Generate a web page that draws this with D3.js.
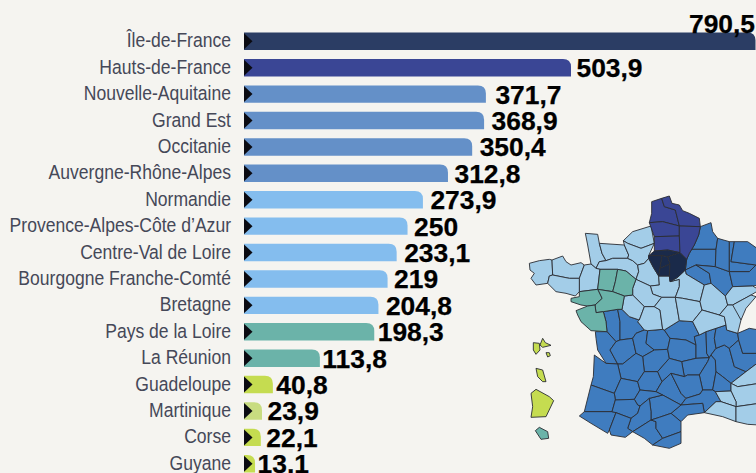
<!DOCTYPE html>
<html><head><meta charset="utf-8">
<style>html,body{margin:0;padding:0;background:#f5f4f0;overflow:hidden}svg{display:block}</style>
<script src="https://cdnjs.cloudflare.com/ajax/libs/d3/7.8.5/d3.min.js"></script>
</head><body><svg id="c" width="756" height="473"></svg>
<script>
const regions=["Île-de-France","Hauts-de-France","Nouvelle-Aquitaine","Grand Est","Occitanie","Auvergne-Rhône-Alpes","Normandie","Provence-Alpes-Côte d’Azur","Centre-Val de Loire","Bourgogne Franche-Comté","Bretagne","Pays de la Loire","La Réunion","Guadeloupe","Martinique","Corse","Guyane"];
const values=[790.5,503.9,371.7,368.9,350.4,312.8,273.9,250,233.1,219,204.8,198.3,113.8,40.8,23.9,22.1,13.1];
const barColors=["#2b3d64","#3a4695","#6490c8","#6490c8","#6490c8","#6490c8","#84bdee","#84bdee","#84bdee","#84bdee","#84bdee","#6bb3a9","#6bb3a9","#c5dc50","#c8dc80","#c5dc50","#c5dc50"];
const labelGaps=[0,6,10,8,8,7,8,7,8,7,8,4,3,4,6,6,3];

// Department outlines, in map units
const hauts=[
[[407,35],[437,25],[445,50],[478,60],[490,108],[440,95],[400,98],[407,70]],
[[437,25],[460,18],[468,40],[490,45],[500,62],[520,70],[550,85],[553,110],[490,108],[478,60],[445,50]],
[[400,98],[440,95],[490,108],[490,138],[415,140]],
[[415,140],[490,138],[492,188],[455,180],[415,183]],
[[490,108],[553,110],[548,135],[535,165],[520,190],[512,208],[492,188],[490,138]]];
const idf=[
[[398,197],[415,183],[455,180],[492,188],[455,200],[438,197]],
[[398,197],[438,197],[432,235],[428,258],[412,232],[398,205]],
[[438,197],[455,200],[462,222],[432,235]],
[[432,235],[462,222],[460,258],[428,258]],
[[455,200],[492,188],[512,208],[508,240],[485,262],[462,275],[460,258],[462,222]]];
const lightBlue=[
[[208,130],[245,133],[250,160],[258,190],[270,212],[250,215],[240,235],[225,222],[215,165]],
[[250,160],[325,165],[338,195],[335,205],[290,205],[270,212],[258,190]],
[[270,212],[290,205],[335,205],[350,212],[365,225],[368,245],[360,268],[330,243],[305,238],[252,238],[240,235],[250,215]],
[[322,152],[350,125],[405,108],[415,160],[375,175],[335,160]],
[[325,165],[322,152],[335,160],[375,175],[415,160],[398,197],[398,205],[385,220],[365,225],[350,212],[335,205],[338,195]],
[[40,220],[70,212],[100,208],[108,210],[110,255],[100,258],[95,280],[60,285],[45,265],[55,250],[42,240]],
[[108,210],[140,198],[150,215],[165,225],[195,218],[205,225],[190,265],[160,265],[110,255]],
[[205,225],[225,222],[240,235],[252,238],[245,298],[190,305],[190,265]],
[[100,258],[110,255],[160,265],[190,265],[190,305],[178,318],[150,310],[120,305],[95,280]],
[[365,225],[385,220],[398,205],[412,232],[428,258],[430,285],[403,288],[360,268],[368,245]],
[[403,288],[430,285],[428,258],[460,258],[462,275],[490,268],[490,290],[478,322],[437,322],[410,312]],
[[360,268],[403,288],[410,312],[437,322],[415,350],[385,350],[350,315],[350,295]],
[[325,318],[350,315],[385,350],[370,390],[340,380],[318,358]],
[[385,350],[415,350],[432,360],[440,418],[395,422],[385,420],[365,395],[370,390]],
[[437,322],[478,322],[482,345],[490,392],[445,420],[440,418],[432,360],[415,350]],
[[462,275],[485,262],[508,240],[510,252],[565,285],[552,335],[500,325],[478,322],[490,290],[490,268]],
[[478,322],[500,325],[552,335],[558,360],[530,395],[490,392],[482,345]],
[[565,285],[585,280],[628,318],[635,345],[610,375],[558,360],[552,335]],
[[558,360],[610,375],[625,380],[630,405],[600,415],[570,425],[550,435],[530,395]],
[[628,318],[650,290],[710,288],[730,300],[705,315],[650,345],[635,345]],
[[650,345],[705,315],[720,320],[690,355],[675,390],[648,355]],
[[635,345],[650,345],[675,390],[665,430],[632,420],[630,405],[625,380],[610,375]],
[[645,580],[690,545],[730,515],[730,580],[665,590]],
[[645,603],[645,580],[665,590],[730,580],[730,640],[660,650],[660,635]],
[[598,605],[645,603],[660,635],[660,650],[615,635]],
[[565,668],[600,635],[615,635],[660,650],[660,695],[620,680]],
[[660,650],[730,640],[730,705],[695,703],[660,695]]];
const teal=[
[[252,238],[305,238],[298,275],[290,305],[245,298]],
[[305,238],[330,243],[360,268],[350,295],[350,315],[325,318],[290,305],[298,275]],
[[245,298],[290,305],[325,318],[318,358],[305,358],[262,365],[240,368],[237,345],[258,325]],
[[165,325],[190,320],[190,305],[245,298],[258,325],[237,345],[215,348],[195,345],[165,335]],
[[180,362],[215,348],[237,345],[240,368],[262,365],[270,395],[273,425],[225,422],[195,395],[185,375]]];
const midBlue=[
[[553,110],[585,98],[590,125],[605,145],[600,178],[527,178],[535,165],[548,135]],
[[527,178],[600,178],[598,230],[540,225],[508,240],[512,208],[520,190]],
[[508,240],[540,225],[580,250],[585,280],[565,285],[510,252]],
[[540,225],[598,230],[640,245],[650,290],[628,318],[585,280],[580,250]],
[[605,145],[640,155],[640,245],[598,230],[600,178]],
[[640,155],[655,155],[645,215],[720,225],[700,245],[640,245]],
[[655,155],[695,155],[730,180],[730,225],[720,225],[645,215]],
[[640,245],[700,245],[720,225],[730,225],[730,285],[710,288],[650,290]],
[[262,365],[305,358],[312,395],[312,450],[300,455],[273,425],[270,395]],
[[305,358],[318,358],[340,380],[370,390],[365,395],[385,420],[360,430],[350,445],[312,450],[312,395]],
[[238,425],[273,425],[300,455],[282,480],[305,522],[270,520],[245,480],[240,445]],
[[300,455],[312,450],[350,445],[360,490],[320,522],[305,522],[282,480]],
[[350,445],[360,430],[385,420],[395,422],[390,460],[415,480],[380,500],[360,490]],
[[395,422],[440,418],[445,420],[462,445],[455,478],[415,480],[390,460]],
[[380,500],[415,480],[455,478],[460,505],[425,545],[385,545]],
[[305,522],[320,522],[360,490],[380,500],[385,545],[365,575],[315,565]],
[[235,495],[270,520],[305,522],[315,565],[295,610],[225,585],[232,560]],
[[295,610],[315,565],[365,575],[372,600],[355,628],[298,630]],
[[225,585],[295,610],[298,630],[288,665],[205,665]],
[[190,678],[205,665],[288,665],[300,668],[280,720],[275,730],[225,700]],
[[385,545],[425,545],[438,575],[420,605],[372,600],[365,575]],
[[445,420],[490,392],[530,395],[550,435],[535,440],[540,465],[510,450],[462,445]],
[[455,478],[462,445],[510,450],[540,465],[540,505],[497,515],[460,505]],
[[535,440],[550,435],[570,425],[572,490],[580,503],[540,505],[540,465]],
[[570,425],[600,415],[595,445],[600,475],[585,495],[580,503],[572,490]],
[[497,515],[540,505],[580,503],[575,515],[550,555],[515,555],[505,560]],
[[425,545],[460,505],[497,515],[505,560],[465,550],[438,575]],
[[575,515],[580,503],[585,495],[598,510],[600,545],[590,600],[560,600],[550,555]],
[[585,495],[600,475],[625,465],[640,475],[655,530],[690,545],[645,580],[620,560],[600,545],[598,510]],
[[600,545],[620,560],[645,580],[645,603],[598,605],[590,600]],
[[595,445],[600,415],[630,405],[632,420],[665,430],[668,450],[640,475],[625,465],[600,475]],
[[640,475],[668,450],[680,490],[730,490],[730,515],[690,545],[655,530]],
[[665,430],[700,415],[730,420],[730,490],[680,490],[668,450]],
[[420,605],[438,575],[465,550],[495,610],[510,625],[495,645],[440,615]],
[[465,550],[505,560],[515,555],[550,555],[560,600],[552,612],[510,625],[495,610]],
[[510,625],[552,612],[560,600],[590,600],[598,605],[615,635],[600,635],[565,668],[560,640],[495,645]],
[[465,670],[495,645],[560,640],[565,668],[515,675],[495,695]],
[[400,625],[440,615],[495,645],[465,670],[430,682],[405,690],[405,665]],
[[355,628],[372,600],[420,605],[440,615],[400,625],[372,648],[365,645]],
[[288,665],[298,630],[355,628],[365,645],[372,648],[365,670],[345,685],[300,668]],
[[345,685],[365,670],[372,648],[400,625],[405,665],[405,690],[350,725],[335,715]],
[[300,668],[345,685],[335,715],[350,725],[328,742],[285,735],[280,720]],
[[350,725],[405,690],[420,695],[420,715],[440,745],[410,765],[385,745]],
[[405,690],[430,682],[465,670],[495,695],[495,725],[440,745],[420,715],[420,695]],
[[410,765],[440,745],[495,725],[495,760],[460,775]]];
const lime=[
[[52,458],[70,460],[72,480],[60,493],[52,480]],
[[72,465],[80,445],[88,458],[105,466],[80,472]],
[[90,488],[100,488],[103,497],[95,501]],
[[60,535],[80,540],[90,575],[80,575],[65,560]],
[[45,610],[60,598],[100,620],[113,632],[90,680],[45,682],[50,650]]];
const reunion=[[[58,722],[70,712],[95,725],[98,745],[75,748]]];
const mapLayers=[[midBlue,"#3f7cbf"],[lightBlue,"#a3cde8"],[teal,"#6bb3a9"],[hauts,"#3a4695"],[idf,"#1a2a4a"],[lime,"#c5dc50"],[reunion,"#6bb3a9"]];

const svg=d3.select("#c");
svg.append("rect").attr("width",756).attr("height",473).attr("fill","#f5f4f0");

const x=d3.scaleLinear().domain([0,790.5]).range([246.6,755.5]);
const y=d3.scaleBand().domain(regions).range([28.1,477]).paddingInner(0.34).paddingOuter(0.17);
const barStart=244,r=8;

const bars=svg.append("g");
regions.forEach((name,i)=>{
  const v=values[i],t=y(name),h=y.bandwidth(),e=x(v),rr=Math.min(r,e-barStart);
  const p=d3.path();
  p.moveTo(barStart,t+h);p.lineTo(barStart,t);p.lineTo(e-rr,t);
  p.quadraticCurveTo(e,t,e,t+rr);p.lineTo(e,t+h);p.closePath();
  bars.append("path").attr("d",p.toString()).attr("fill",barColors[i]);
  const tri=d3.path();const c=t+h/2;
  tri.moveTo(barStart,c-8);tri.lineTo(barStart+8.5,c);tri.lineTo(barStart,c+8);tri.closePath();
  bars.append("path").attr("d",tri.toString()).attr("fill","#0b0b12");
  svg.append("text").attr("transform",`translate(231,${c+6}) scale(0.9,1)`).attr("text-anchor","end")
    .attr("font-family","'Liberation Sans',Arial,sans-serif").attr("font-size",19.5).attr("fill","#454858").text(name);
  const lab=svg.append("text").attr("font-family","'Liberation Sans',Arial,sans-serif").attr("font-weight","bold")
    .attr("font-size",26.4).attr("fill","#000").attr("stroke","#000").attr("stroke-width",0.25)
    .text(d3.format(".1f")(v).replace(".0","").replace(".",","));
  if(i===0) lab.attr("x",755).attr("y",33).attr("text-anchor","end");
  else lab.attr("x",e+labelGaps[i]-0.5).attr("y",c+9.5);
});

const mx=d3.scaleLinear().domain([0,720]).range([516,756]);
const my=d3.scaleLinear().domain([0,849]).range([190,473]);
const line=d3.line().x(d=>mx(d[0])).y(d=>my(d[1])).curve(d3.curveLinearClosed);
const map=svg.append("g");
mapLayers.forEach(([polys,col])=>{
  map.selectAll(null).data(polys).enter().append("path").attr("d",line).attr("fill",col)
    .attr("stroke","#2a2d33").attr("stroke-width",0.9).attr("stroke-linejoin","round");
});
</script></body></html>
